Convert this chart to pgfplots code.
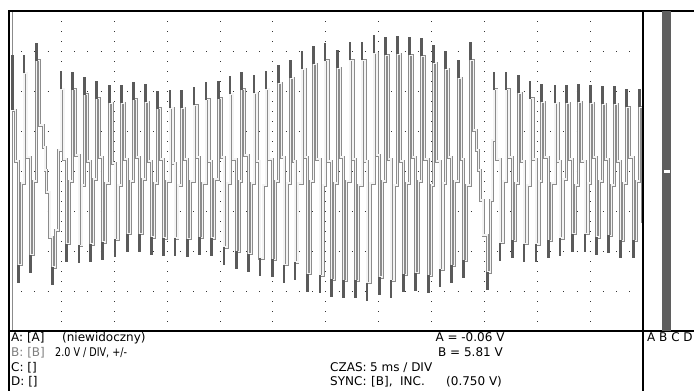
\documentclass[border=0pt]{standalone}
\usepackage{pgfplots}
\pgfplotsset{compat=1.18}
\usepackage{pgfplotstable}
\usepackage{fontspec}
\setmainfont{DejaVu Sans}
\definecolor{trgray}{HTML}{8C8C8C}
\definecolor{trin}{HTML}{F4F4F4}
\definecolor{tipgray}{HTML}{5A5A5A}
\definecolor{bargray}{HTML}{5F5F5F}
\definecolor{lblgray}{HTML}{808080}
\newcommand{\tsz}{\fontsize{12bp}{13bp}\selectfont}

% channel B trace (time in ms, voltage in V), sampled staircase
\pgfplotstableread{
t v
0.378 3.05
0.662 0.5
0.927 -4.685
1.210 -0.6
1.466 4.9
1.749 0.7
2.099 -4.185
2.383 -0.5
2.667 5.515
2.950 2.3
3.291 1.2
3.452 0.05
3.612 -1.05
3.924 -3.3
4.180 -4.8
4.463 -2.95
4.709 1.05
4.965 4.1
5.248 0.6
5.504 -3.635
5.787 -0.5
6.071 4.065
6.355 0.8
6.667 -3.715
6.950 -0.7
7.168 3.815
7.452 0.5
7.773 -3.65
8.057 -0.4
8.340 3.615
8.624 0.7
8.870 -3.55
9.154 -0.6
9.532 3.4
9.816 0.4
10.071 -3.415
10.355 -0.7
10.667 3.4
10.950 0.6
11.234 -3.135
11.518 -0.5
11.801 3.565
12.085 0.7
12.369 -3.135
12.652 -0.4
12.936 3.45
13.220 0.5
13.541 -3.3
13.825 -0.6
14.071 3.115
14.354 0.6
14.638 -3.35
14.922 -0.5
15.272 3.15
15.556 0.4
15.745 -3.35
16.028 -0.7
16.378 3.15
16.662 0.6
16.908 -3.385
17.192 -0.5
17.542 3.285
17.825 0.7
18.043 -3.315
18.326 -0.6
18.676 3.565
18.960 0.5
19.215 -3.35
19.499 -0.4
19.839 3.615
20.123 0.7
20.379 -3.8
20.662 -0.6
20.946 3.85
21.229 0.6
21.579 -4.015
21.863 -0.5
22.052 4.065
22.336 0.8
22.676 -4.135
22.960 -0.6
23.215 3.9
23.499 0.5
23.782 -4.35
24.066 -0.7
24.350 4.1
24.633 0.6
24.946 -4.415
25.229 -0.5
25.513 4.4
25.797 0.7
26.052 -4.685
26.336 -0.6
26.686 4.65
26.969 0.5
27.092 -4.55
27.375 -0.6
27.754 5.1
28.038 0.7
28.293 -5.135
28.577 -0.5
28.823 5.35
29.107 0.6
29.457 -5.215
29.740 -0.7
29.929 5.515
30.213 0.5
30.563 -5.415
30.846 -0.6
31.130 5.15
31.414 0.7
31.660 -5.465
31.943 -0.5
32.293 5.535
32.577 0.6
32.795 -5.465
33.078 -0.7
33.428 5.535
33.712 0.5
33.901 -5.585
34.185 -0.6
34.563 5.9
34.847 0.8
35.064 -5.3
35.348 -0.5
35.669 5.785
35.953 0.6
36.171 -5.465
36.454 -0.7
36.804 5.85
37.088 0.5
37.334 -5.165
37.617 -0.6
37.939 5.785
38.222 0.7
38.506 -5.085
38.790 -0.5
39.073 5.735
39.357 0.6
39.696 -5.215
39.980 -0.7
40.170 5.4
40.454 0.5
40.804 -4.915
41.088 -0.6
41.305 5.1
41.589 0.7
41.910 -4.715
42.194 -0.5
42.534 4.65
42.818 0.6
43.007 -4.465
43.291 -0.7
43.707 5.535
43.991 2.05
44.274 1.05
44.464 0.05
44.653 -1.45
44.870 -3.2
45.277 -5.05
45.560 -1.45
45.722 1.55
45.910 4.065
46.193 0.6
46.478 -3.585
46.761 -0.5
47.045 4.065
47.329 0.7
47.641 -3.465
47.925 -0.6
48.208 3.9
48.492 0.5
48.747 -3.635
49.031 -0.7
49.315 3.615
49.598 0.6
49.882 -3.65
50.165 -0.5
50.421 3.45
50.705 0.7
51.045 -3.465
51.329 -0.6
51.679 3.4
51.963 0.5
52.152 -3.35
52.435 -0.4
52.785 3.4
53.069 0.6
53.353 -3.135
53.636 -0.7
53.882 3.45
54.166 0.5
54.515 -3.135
54.799 -0.6
55.055 3.4
55.339 0.7
55.622 -3.3
55.906 -0.5
56.151 3.35
56.435 0.6
56.719 -3.215
57.002 -0.7
57.286 3.35
57.570 0.5
57.892 -3.465
58.176 -0.6
58.459 3.185
58.743 0.7
59.083 -3.465
59.366 -0.5
59.650 3.185
59.934 0.3
59.970 -2.5
60.200 -2.5
}\trace

% peak-detect extremes above the sampled maxima
\pgfplotstableread{
t v e
0.378 3.05 2.75
1.466 4.9 0.9
2.667 5.515 0.9
4.965 4.1 0.9
6.071 4.065 0.9
7.168 3.815 0.9
8.340 3.615 0.9
9.532 3.4 0.9
10.667 3.4 0.9
11.801 3.565 0.9
12.936 3.45 0.9
14.071 3.115 0.9
15.272 3.15 0.9
16.378 3.15 0.9
17.542 3.285 0.9
18.676 3.565 0.9
19.839 3.615 0.9
20.946 3.85 0.9
22.052 4.065 0.9
23.215 3.9 0.9
24.350 4.1 0.9
25.513 4.4 0.9
26.686 4.65 0.9
27.754 5.1 0.9
28.823 5.35 0.9
29.929 5.515 0.9
31.130 5.15 0.9
32.293 5.535 0.9
33.428 5.535 0.9
34.563 5.9 0.9
35.669 5.785 0.9
36.804 5.85 0.9
37.939 5.785 0.9
39.073 5.735 0.9
40.170 5.4 0.9
41.305 5.1 0.9
42.534 4.65 0.9
43.707 5.535 0.9
45.910 4.065 0.9
47.045 4.065 0.9
48.208 3.9 0.9
49.315 3.615 0.9
50.421 3.45 0.9
51.679 3.4 0.9
52.785 3.4 0.9
53.882 3.45 0.9
55.055 3.4 0.9
56.151 3.35 0.9
57.286 3.35 0.9
58.459 3.185 0.9
59.650 3.185 0.9
}\peaks

\pgfplotstableread{
t v e
0.927 -4.685 0.9
2.099 -4.185 0.9
4.180 -4.8 0.9
5.504 -3.635 0.9
6.667 -3.715 0.9
7.773 -3.65 0.9
8.870 -3.55 0.9
10.071 -3.415 0.9
11.234 -3.135 0.9
12.369 -3.135 0.9
13.541 -3.3 0.9
14.638 -3.35 0.9
15.745 -3.35 0.9
16.908 -3.385 0.9
18.043 -3.315 0.9
19.215 -3.35 0.9
20.379 -3.8 0.9
21.579 -4.015 0.9
22.676 -4.135 0.9
23.782 -4.35 0.9
24.946 -4.415 0.9
26.052 -4.685 0.9
27.092 -4.55 0.9
28.293 -5.135 0.9
29.457 -5.215 0.9
30.563 -5.415 0.9
31.660 -5.465 0.9
32.795 -5.465 0.9
33.901 -5.585 0.9
35.064 -5.3 0.9
36.171 -5.465 0.9
37.334 -5.165 0.9
38.506 -5.085 0.9
39.696 -5.215 0.9
40.804 -4.915 0.9
41.910 -4.715 0.9
43.007 -4.465 0.9
45.277 -5.05 0.9
46.478 -3.585 0.9
47.641 -3.465 0.9
48.747 -3.635 0.9
49.882 -3.65 0.9
51.045 -3.465 0.9
52.152 -3.35 0.9
53.353 -3.135 0.9
54.515 -3.135 0.9
55.622 -3.3 0.9
56.719 -3.215 0.9
57.892 -3.465 0.9
59.083 -3.465 0.9
}\troughs

\begin{document}
\begin{tikzpicture}
\useasboundingbox (0,0) rectangle (694bp,391bp);
\fill[white] (0,0) rectangle (694bp,391bp);
% cursor line
\draw[trgray, line width=1bp] (12.5bp,60bp) -- (12.5bp,380bp);
\begin{axis}[
  at={(8.5bp,60bp)}, anchor=south west,
  width=634.5bp, height=320bp, scale only axis,
  xmin=0, xmax=60, ymin=-8, ymax=8,
  xtick={5,10,...,55}, ytick={-6,-4,...,6},
  xticklabels={}, yticklabels={},
  major tick length=0pt,
  grid=major,
  x grid style={draw=black!80, line width=0.9bp, dash pattern=on 0.9bp off 9.1bp, dash phase=0.45bp},
  y grid style={draw=black!80, line width=0.9bp, dash pattern=on 0.9bp off 12.32bp, dash phase=0.45bp},
  axis line style={draw=none},
  clip=true,
]
\addplot[const plot, draw=trgray, line width=3bp, line join=miter] table[x=t,y=v] {\trace};
\addplot[const plot, draw=trin, line width=1.15bp, line join=miter] table[x=t,y=v] {\trace};
\addplot[draw=none, error bars/.cd, y dir=plus, y explicit, error mark=none,
  error bar style={draw=tipgray, line width=2.6bp}] table[x=t,y=v,y error=e] {\peaks};
\addplot[draw=none, error bars/.cd, y dir=minus, y explicit, error mark=none,
  error bar style={draw=tipgray, line width=2.6bp}] table[x=t,y=v,y error=e] {\troughs};
\end{axis}
% frame
\draw[black, line width=1.2bp] (9bp,0bp) -- (9bp,380bp) -- (694bp,380bp);
\draw[black, line width=1.2bp] (9bp,60bp) -- (694bp,60bp);
\draw[black, line width=1.2bp] (643bp,0bp) -- (643bp,380bp);
% right channel bar
\fill[bargray] (662.3bp,60bp) rectangle (671bp,380bp);
\fill[white] (663.5bp,218bp) rectangle (669.5bp,220.5bp);
% status text
\begin{scope}[every node/.style={inner sep=0pt, font=\tsz}]
\node[anchor=base west] at (11bp,49bp) {A: [A]};
\node[anchor=base west] at (62bp,49bp) {(niewidoczny)};
\node[anchor=base west, text=lblgray] at (11bp,34.5bp) {B: [B]};
\node[anchor=base west] at (55bp,34.5bp) {\scalebox{0.8}[1]{2.0 V / DIV, +/-}};
\node[anchor=base west] at (11bp,20bp) {C: []};
\node[anchor=base west] at (11bp,5.5bp) {D: []};
\node[anchor=base] at (470bp,49bp) {A = -0.06 V};
\node[anchor=base] at (470.5bp,34.5bp) {B = 5.81 V};
\node[anchor=base west] at (330bp,20bp) {CZAS:};
\node[anchor=base west] at (370bp,20bp) {5 ms / DIV};
\node[anchor=base west] at (330bp,5.5bp) {SYNC:};
\node[anchor=base west] at (371bp,5.5bp) {[B],};
\node[anchor=base west] at (400bp,5.5bp) {INC.};
\node[anchor=base west] at (446bp,5.5bp) {(0.750 V)};
\node[anchor=base west] at (647bp,49bp) {A B C D};
\end{scope}
\end{tikzpicture}
\end{document}
